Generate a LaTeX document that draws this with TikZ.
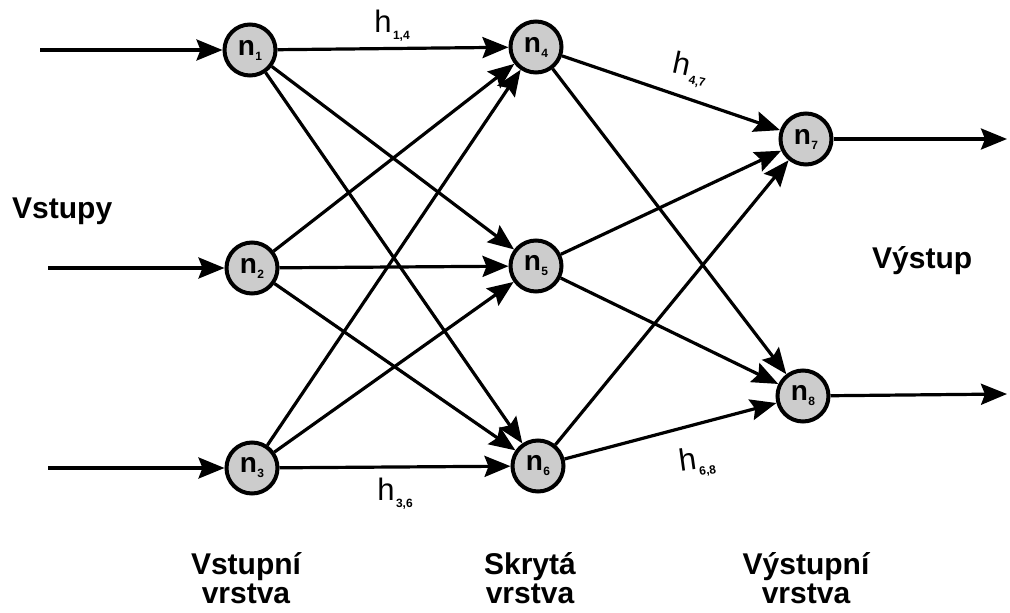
\documentclass[tikz,border=0pt]{standalone}
\usepackage{fontspec}
\setmainfont{Liberation Sans}
\usetikzlibrary{arrows.meta}
\newcommand{\nsub}[1]{n\kern0.3pt\raisebox{-5pt}{\fontsize{12}{12}\selectfont #1}}
\newcommand{\hsub}[1]{h\kern1.5pt\raisebox{-7pt}{\fontsize{12}{12}\selectfont\bfseries #1}}
\begin{document}
\begin{tikzpicture}[x=1pt,y=-1pt,
  neuron/.style={circle,draw=black,line width=4pt,fill=black!20,minimum size=51pt,inner sep=0pt,font=\fontsize{28}{28}\selectfont\bfseries},
  conn/.style={line width=3.2pt,-{Stealth[length=26pt,width=21pt,inset=4pt]}},
  lbl/.style={font=\fontsize{30}{30}\selectfont\bfseries,inner sep=0pt},
  wlab/.style={font=\fontsize{31}{31}\selectfont,inner sep=0pt}]
\useasboundingbox (0,0) rectangle (1010,613);
% neurons
\node[neuron] (n1) at (250,50) {\nsub{1}};
\node[neuron] (n2) at (252,268) {\nsub{2}};
\node[neuron] (n3) at (252,468) {\nsub{3}};
\node[neuron] (n4) at (536,47) {\nsub{4}};
\node[neuron] (n5) at (536,266) {\nsub{5}};
\node[neuron] (n6) at (538,466) {\nsub{6}};
\node[neuron] (n7) at (806,139) {\nsub{7}};
\node[neuron] (n8) at (803,396) {\nsub{8}};
% free ends
\coordinate (i1) at (40,50);
\coordinate (i2) at (48,268);
\coordinate (i3) at (48,468);
\coordinate (o7) at (1007,139);
\coordinate (o8) at (1007,394);
% inputs
\draw[conn] (i1) -- (n1);
\draw[conn] (i2) -- (n2);
\draw[conn] (i3) -- (n3);
% input -> hidden
\foreach \a in {n1,n2,n3}{
  \foreach \b in {n4,n5,n6}{
    \draw[conn] (\a) -- (\b);
  }
}
% hidden -> output
\foreach \a in {n4,n5,n6}{
  \foreach \b in {n7,n8}{
    \draw[conn] (\a) -- (\b);
  }
}
% outputs
\draw[conn] (n7) -- (o7);
\draw[conn] (n8) -- (o8);
% weight labels
\node[wlab] (h14) at (392,26) {\hsub{1,4}};
\node[wlab] (h36) at (395,494) {\hsub{3,6}};
\node[wlab,rotate=-12] (h47) at (690,70) {\hsub{4,7}};
\node[wlab,rotate=8] (h68) at (697,462) {\hsub{6,8}};
% texts
\node[lbl,anchor=base west] (vstupy) at (12,218) {Vstupy};
\node[lbl,anchor=base west] (vystup) at (872,268) {Výstup};
\node[lbl,anchor=base] (l1a) at (246,574) {Vstupní};
\node[lbl,anchor=base] (l1b) at (246,603) {vrstva};
\node[lbl,anchor=base] (l2a) at (530,574) {Skrytá};
\node[lbl,anchor=base] (l2b) at (530,603) {vrstva};
\node[lbl,anchor=base] (l3a) at (806,574) {Výstupní};
\node[lbl,anchor=base] (l3b) at (806,603) {vrstva};
\end{tikzpicture}
\end{document}
